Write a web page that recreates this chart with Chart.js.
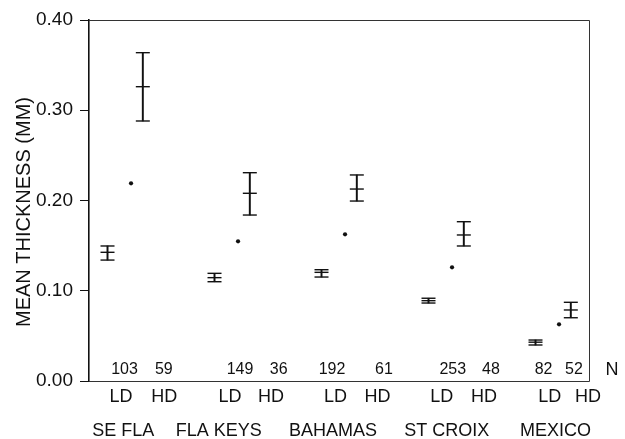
<!DOCTYPE html>
<html><head><meta charset="utf-8">
<script src="https://cdn.jsdelivr.net/npm/chart.js@4/dist/chart.umd.min.js"></script>
<style>html,body{margin:0;padding:0;background:#fff;}</style>
</head><body>
<canvas id="c" width="625" height="439"></canvas>
<script>
// ---- data ----
const sites = ['SE FLA','FLA KEYS','BAHAMAS','ST CROIX','MEXICO'];
const nLD = [103,149,192,253,82];
const nHD = [59,36,61,48,52];
const ldMean = [0.1426,0.1145,0.1204,0.0890,0.0430];
const ldLow  = [0.1340,0.1100,0.1152,0.0864,0.0399];
const ldHigh = [0.1496,0.1193,0.1233,0.0917,0.0454];
const hdMean = [0.3261,0.2080,0.2127,0.1618,0.0787];
const hdLow  = [0.2881,0.1839,0.1994,0.1496,0.0701];
const hdHigh = [0.3638,0.2308,0.2283,0.1765,0.0872];
const midValue = [0.219,0.1548,0.1625,0.126,0.0628];
const yTicks = [0.00,0.10,0.20,0.30,0.40];

// ---- layout (axis units along x; group i sits at i) ----
const X_MIN = -0.173, X_MAX = 4.5;
const OFF = {ld:0, dot:0.22, hd:0.33};
const nLdX = [0.159,1.238,2.098,3.227,4.075];
const nHdX = [0.526,1.600,2.584,3.584,4.360];
const ldLabelX = [0.126,1.145,2.131,3.123,4.133];
const hdLabelX = [0.531,1.528,2.523,3.519,4.491];
const siteX = [0.148,1.040,2.107,3.170,4.187];
const nTagX = 4.715;

const FONT = "'Liberation Sans', Arial, Helvetica, sans-serif";
const INK = '#111';

const whiskers = [];
const caps = [];
sites.forEach((s,i)=>{
  whiskers.push({x:i+OFF.ld, y:[ldLow[i], ldHigh[i]]});
  whiskers.push({x:i+OFF.hd, y:[hdLow[i], hdHigh[i]]});
  caps.push({x:i+OFF.ld, y:ldLow[i]},{x:i+OFF.ld, y:ldHigh[i]},{x:i+OFF.ld, y:ldMean[i]});
  caps.push({x:i+OFF.hd, y:hdLow[i]},{x:i+OFF.hd, y:hdHigh[i]},{x:i+OFF.hd, y:hdMean[i]});
});
const dots = sites.map((s,i)=>({x:i+OFF.dot, y:midValue[i]}));

const textPlugin = {
  id:'textPlugin',
  afterDraw(chart){
    const {ctx, chartArea:a, scales:{x}} = chart;
    ctx.save();
    ctx.strokeStyle = '#333'; ctx.lineWidth = 1;
    ctx.beginPath();
    ctx.moveTo(a.left, a.top+0.5); ctx.lineTo(a.right+0.5, a.top+0.5);
    ctx.lineTo(a.right+0.5, a.bottom+0.5); ctx.lineTo(a.left, a.bottom+0.5);
    ctx.stroke();
    ctx.fillStyle = INK; ctx.textAlign='center'; ctx.textBaseline='middle';
    ctx.font = '16px '+FONT;
    sites.forEach((s,i)=>{
      ctx.fillText(String(nLD[i]), x.getPixelForValue(nLdX[i]), a.bottom-11);
      ctx.fillText(String(nHD[i]), x.getPixelForValue(nHdX[i]), a.bottom-11);
    });
    ctx.font = '18px '+FONT;
    ctx.fillText('N', x.getPixelForValue(nTagX), a.bottom-11);
    ctx.font = '18px '+FONT;
    sites.forEach((s,i)=>{
      ctx.fillText('LD', x.getPixelForValue(ldLabelX[i]), a.bottom+16);
      ctx.fillText('HD', x.getPixelForValue(hdLabelX[i]), a.bottom+16);
    });
    sites.forEach((s,i)=>{
      ctx.fillText(s, x.getPixelForValue(siteX[i]), a.bottom+50);
    });
    ctx.translate(24, 212); ctx.rotate(-Math.PI/2);
    ctx.font = '20px '+FONT;
    ctx.fillText('MEAN THICKNESS (MM)', 0, 0);
    ctx.restore();
  }
};

new Chart(document.getElementById('c'), {
  type:'scatter',
  data:{datasets:[
    {type:'bar', data:whiskers, backgroundColor:INK, borderWidth:0, barThickness:1.3, grouped:false},
    {type:'scatter', data:caps, pointStyle:'line', pointRadius:7, borderColor:INK, borderWidth:1.4, backgroundColor:INK},
    {type:'scatter', data:dots, pointStyle:'circle', pointRadius:2.1, borderWidth:0, backgroundColor:INK}
  ]},
  options:{
    responsive:false, animation:false, devicePixelRatio:1,
    layout:{padding:{top:20,right:36,bottom:58,left:0}},
    plugins:{legend:{display:false}, tooltip:{enabled:false}},
    scales:{
      x:{type:'linear', min:X_MIN, max:X_MAX, display:false, offset:false},
      y:{min:0, max:0.4,
        afterBuildTicks(scale){ scale.ticks = yTicks.map(v=>({value:v})); },
        afterFit(scale){ scale.width = 89; },
        ticks:{callback:v=>Number(v).toFixed(2), font:{family:FONT,size:19}, color:INK, padding:7},
        grid:{drawOnChartArea:false, drawTicks:true, tickLength:9, color:INK, lineWidth:1},
        border:{display:true, color:INK, width:1.6}
      }
    }
  },
  plugins:[textPlugin]
});
</script>
</body></html>
